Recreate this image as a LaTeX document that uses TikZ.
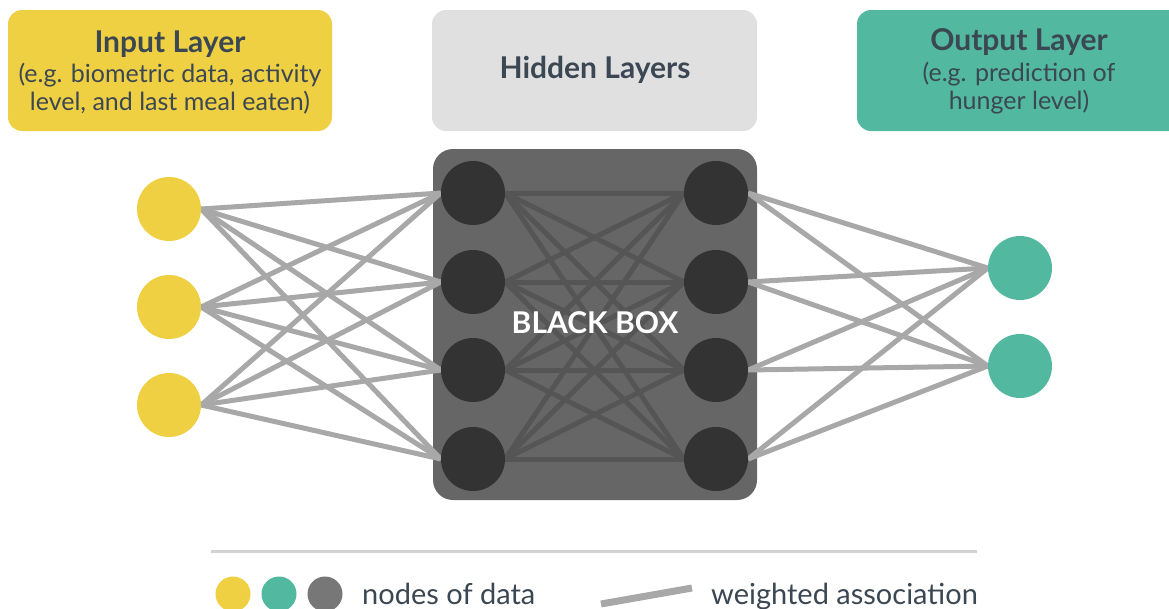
\documentclass[tikz,border=0pt]{standalone}
\usepackage{fontspec}
\setmainfont{Lato}
\pgfdeclarelayer{bg}
\pgfsetlayers{bg,main}
\definecolor{inyellow}{HTML}{F0D043}
\definecolor{outteal}{HTML}{52B8A0}
\definecolor{hidgrey}{HTML}{E0E0E0}
\definecolor{boxgrey}{HTML}{666666}
\definecolor{nodedark}{HTML}{333333}
\definecolor{legrey}{HTML}{777777}
\definecolor{txt}{HTML}{3B4752}
\definecolor{wline}{HTML}{A8A8A8}
\definecolor{inline}{HTML}{555555}
\definecolor{rule}{HTML}{D2D2D2}
\tikzset{
  labelbox/.style={rounded corners=14pt, draw=none},
  datanode/.style={circle, minimum size=64pt, inner sep=0pt, draw=none},
  legnode/.style={circle, minimum size=35pt, inner sep=0pt, draw=none},
  wedge/.style={wline, line width=5pt},
  iedge/.style={inline, line width=5pt},
  title/.style={text=txt, font=\fontsize{30}{34}\selectfont\bfseries, align=center},
  sub/.style={text=txt, font=\fontsize{25}{28}\selectfont, align=center},
  legtext/.style={text=txt, font=\fontsize{29}{32}\selectfont, anchor=base west, inner sep=0pt},
}
\begin{document}
\begin{tikzpicture}[x=1pt,y=-1pt]
\useasboundingbox (0,0) rectangle (1169,608);
\clip (0,0) rectangle (1169,608);
% header boxes
\fill[inyellow, labelbox] (8,10) rectangle (332,131);
\fill[hidgrey, labelbox] (432,10) rectangle (757,131);
\fill[outteal, labelbox] (857,10) rectangle (1200,131);
\node[title, anchor=base] (tin) at (170,52) {Input Layer};
\node[sub, anchor=base] (sin1) at (170,82) {(e.g. biometric data, activity};
\node[sub, anchor=base] (sin2) at (170,110) {level, and last meal eaten)};
\node[title, anchor=base] (thid) at (595,78) {Hidden Layers};
\node[title, anchor=base] (tout) at (1019,50) {Output Layer};
\node[sub, anchor=base] (sout1) at (1019,81) {(e.g. prediction of};
\node[sub, anchor=base] (sout2) at (1019,109) {hunger level)};
% nodes
\node[datanode, fill=inyellow] (i1) at (169,209) {};
\node[datanode, fill=inyellow] (i2) at (169,307) {};
\node[datanode, fill=inyellow] (i3) at (169,405) {};
\node[datanode, fill=nodedark] (h1) at (473,193) {};
\node[datanode, fill=nodedark] (h2) at (473,282) {};
\node[datanode, fill=nodedark] (h3) at (473,370) {};
\node[datanode, fill=nodedark] (h4) at (473,459) {};
\node[datanode, fill=nodedark] (g1) at (716,193) {};
\node[datanode, fill=nodedark] (g2) at (716,282) {};
\node[datanode, fill=nodedark] (g3) at (716,370) {};
\node[datanode, fill=nodedark] (g4) at (716,459) {};
\node[datanode, fill=outteal] (o1) at (1020,268) {};
\node[datanode, fill=outteal] (o2) at (1020,366) {};
\node[text=white, font=\fontsize{30}{32}\selectfont\bfseries] (bb) at (595,323) {BLACK BOX};
\begin{pgfonlayer}{bg}
  \fill[boxgrey, rounded corners=20pt] (433,149) rectangle (757,500);
  \foreach \a in {1,2,3}{
    \foreach \b in {1,2,3,4}{
      \draw[wedge] (i\a.east) -- (h\b.west);
    }
  }
  \foreach \a in {1,2,3,4}{
    \foreach \b in {1,2,3,4}{
      \draw[iedge] (h\a.east) -- (g\b.west);
    }
    \foreach \b in {1,2}{
      \draw[wedge] (g\a.east) -- (o\b.west);
    }
  }
\end{pgfonlayer}
% legend
\coordinate (r1) at (211,551);
\coordinate (r2) at (977,551);
\draw[rule, line width=3pt] (r1) -- (r2);
\node[legnode, fill=inyellow] (ly) at (233,594) {};
\node[legnode, fill=outteal] (lt) at (279,594) {};
\node[legnode, fill=legrey] (lg) at (325,594) {};
\node[legtext] (ltx) at (362,604) {nodes of data};
\coordinate (w1) at (601,604);
\coordinate (w2) at (692,588);
\draw[wline, line width=7pt] (w1) -- (w2);
\node[legtext] (lwx) at (711,604) {weighted association};
\end{tikzpicture}
\end{document}
